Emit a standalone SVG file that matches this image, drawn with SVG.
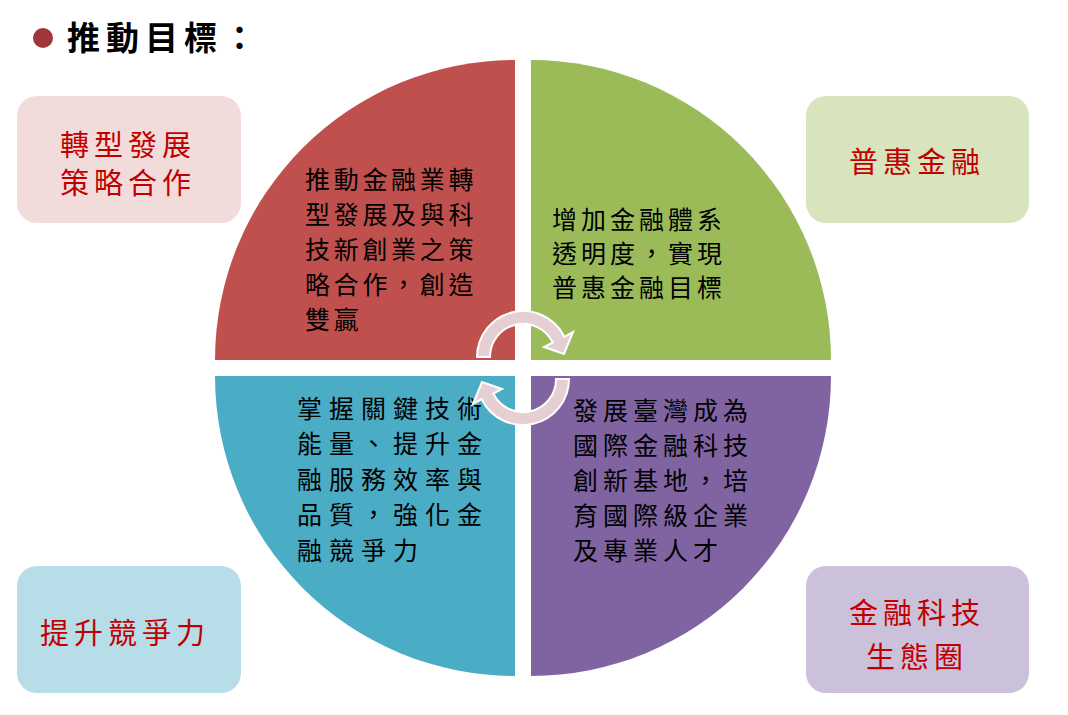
<svg xmlns="http://www.w3.org/2000/svg" width="1068" height="715" viewBox="0 0 1068 715">
<defs>
<style>
text{font-family:"Noto Sans CJK TC","Noto Sans CJK SC",sans-serif;}
.title{font-size:33px;font-weight:bold;fill:#000;letter-spacing:6px;}
.lbl{font-size:29px;fill:#C00000;letter-spacing:5px;}
.q{font-size:25px;fill:#000;}
.arrow{fill:#E6CFD3;stroke:#FFFFFF;stroke-width:2;}
</style>
<path id="arc" d="M -46 0 A 46 46 0 0 1 41.3 -20.2 L 50 -25 L 41 -3 L 21 -10 L 29.7 -14.5 A 33 33 0 0 0 -33 0 Z"/>
</defs>
<rect width="1068" height="715" fill="#FFFFFF"/>
<g id="title">
<circle cx="43" cy="38" r="10" fill="#A0353A"/>
<text class="title" x="67" y="50">推動目標：</text>
</g>
<g id="quad-red">
<path d="M 515 360 L 215 360 A 300 300 0 0 1 515 60 Z" fill="#C0504D"/>
<text class="q" style="letter-spacing:3.7px">
<tspan x="305" y="189">推動金融業轉</tspan>
<tspan x="305" y="224">型發展及與科</tspan>
<tspan x="305" y="259">技新創業之策</tspan>
<tspan x="305" y="294">略合作，創造</tspan>
<tspan x="305" y="329">雙贏</tspan>
</text>
</g>
<g id="quad-green">
<path d="M 531 360 L 531 60 A 300 300 0 0 1 831 360 Z" fill="#9BBB59"/>
<text class="q" style="letter-spacing:4px">
<tspan x="552" y="229">增加金融體系</tspan>
<tspan x="552" y="263">透明度，實現</tspan>
<tspan x="552" y="297">普惠金融目標</tspan>
</text>
</g>
<g id="quad-blue">
<path d="M 515 376 L 515 676 A 300 300 0 0 1 215 376 Z" fill="#4BACC6"/>
<text class="q" style="letter-spacing:7px">
<tspan x="297" y="418">掌握關鍵技術</tspan>
<tspan x="297" y="453">能量、提升金</tspan>
<tspan x="297" y="489">融服務效率與</tspan>
<tspan x="297" y="524">品質，強化金</tspan>
<tspan x="297" y="560">融競爭力</tspan>
</text>
</g>
<g id="quad-purple">
<path d="M 531 376 L 831 376 A 300 300 0 0 1 531 676 Z" fill="#8064A2"/>
<text class="q" style="letter-spacing:5px">
<tspan x="573" y="420">發展臺灣成為</tspan>
<tspan x="573" y="455">國際金融科技</tspan>
<tspan x="573" y="490">創新基地，培</tspan>
<tspan x="573" y="525">育國際級企業</tspan>
<tspan x="573" y="560">及專業人才</tspan>
</text>
</g>
<g id="box-tl">
<rect x="17" y="96" width="224" height="127" rx="20" fill="#F2DCDB"/>
<text class="lbl"><tspan x="60" y="156">轉型發展</tspan><tspan x="60" y="194">策略合作</tspan></text>
</g>
<g id="box-tr">
<rect x="806" y="96" width="223" height="127" rx="20" fill="#D7E4BD"/>
<text class="lbl" x="849" y="173">普惠金融</text>
</g>
<g id="box-bl">
<rect x="17" y="566" width="224" height="127" rx="20" fill="#B7DEE8"/>
<text class="lbl" x="40" y="644">提升競爭力</text>
</g>
<g id="box-br">
<rect x="806" y="566" width="223" height="127" rx="20" fill="#CCC1DA"/>
<text class="lbl"><tspan x="849" y="624">金融科技</tspan><tspan x="866" y="668">生態圈</tspan></text>
</g>
<g id="connectors">
<use href="#arc" class="arrow" transform="translate(523,357)"/>
<use href="#arc" class="arrow" transform="translate(523,379) rotate(180)"/>
</g>
</svg>
